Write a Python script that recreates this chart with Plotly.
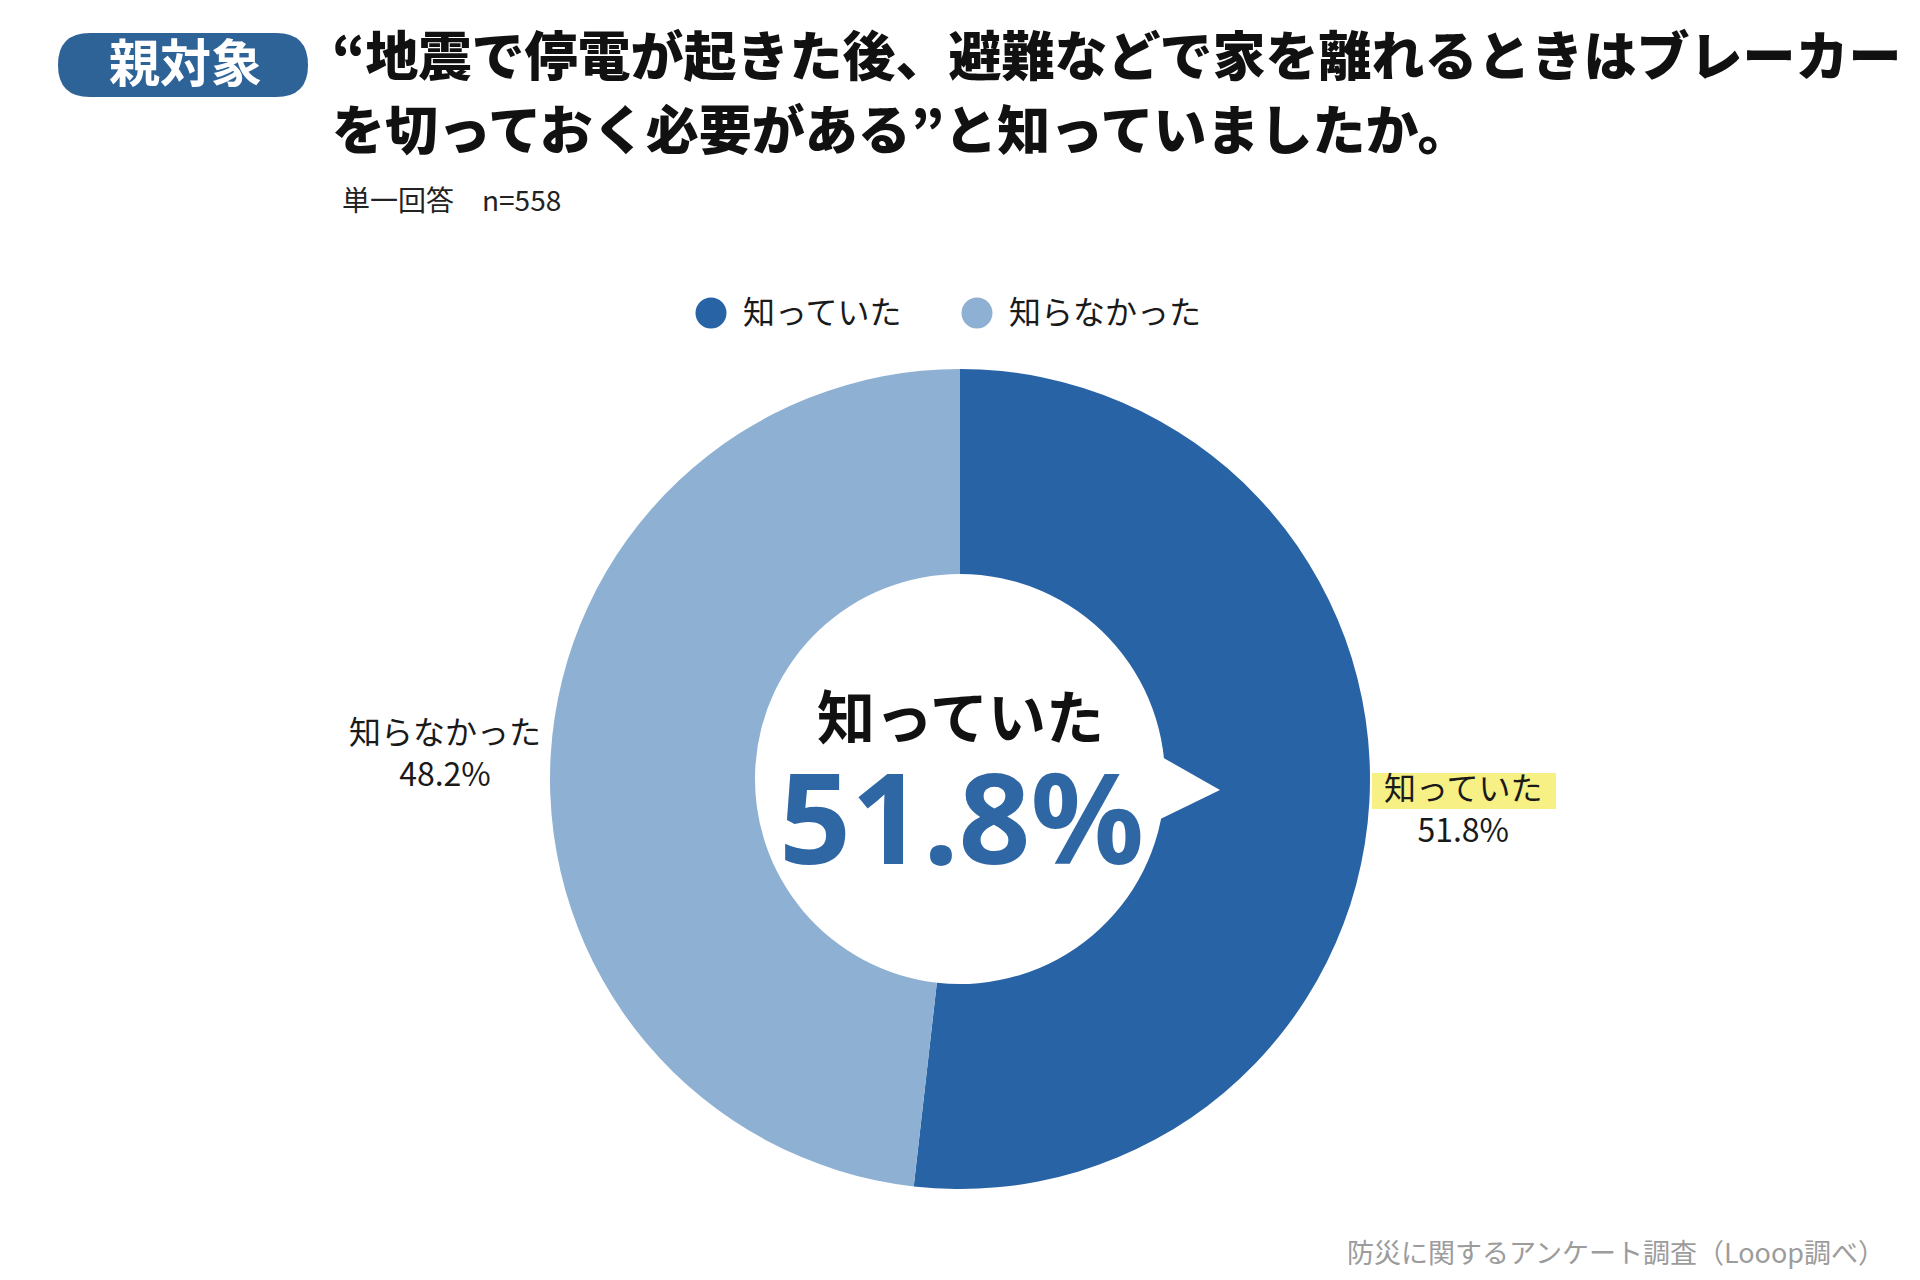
import plotly.graph_objects as go

# data
categories = ["知っていた", "知らなかった"]
shares = [51.8, 48.2]
badge_label = "親対象"
title_lines = ["“地震で停電が起きた後、避難などで家を離れるときはブレーカー",
               "を切っておく必要がある”と知っていましたか。"]
subtitle = "単一回答　n=558"
source = "防災に関するアンケート調査（Looop調べ）"

colors = ["#2863a5", "#8db0d3"]
W, H = 1920, 1280
OFF = 8  # the page puts the plot 8px in from the corner
JP = "Noto Sans CJK JP"


def fx(x):
    return (x - OFF) / W


def fy(y):
    return 1 - (y - OFF) / H


fig = go.Figure()
fig.add_trace(go.Pie(
    labels=categories,
    values=shares,
    hole=0.5,
    sort=False,
    direction="clockwise",
    rotation=0,
    marker=dict(colors=colors, line=dict(width=0)),
    textinfo="none",
    showlegend=False,
    domain=dict(x=[fx(550), fx(1370)], y=[fy(1189), fy(369)]),
))

shapes = []
annotations = []

# badge
bx0, bx1, by0, by1, r = 58, 308, 33, 97, 32
shapes.append(dict(
    type="path", xref="paper", yref="paper",
    path=(f"M {fx(bx0 + r)} {fy(by0)} L {fx(bx1 - r)} {fy(by0)} "
          f"Q {fx(bx1)} {fy(by0)} {fx(bx1)} {fy((by0 + by1) / 2)} "
          f"Q {fx(bx1)} {fy(by1)} {fx(bx1 - r)} {fy(by1)} "
          f"L {fx(bx0 + r)} {fy(by1)} "
          f"Q {fx(bx0)} {fy(by1)} {fx(bx0)} {fy((by0 + by1) / 2)} "
          f"Q {fx(bx0)} {fy(by0)} {fx(bx0 + r)} {fy(by0)} Z"),
    fillcolor="#2e6398", line=dict(width=0),
))
annotations.append(dict(
    x=fx(185), y=fy(60), text=f"<b>{badge_label}</b>", showarrow=False,
    xanchor="center", yanchor="middle",
    font=dict(family=JP, size=51, color="white", weight=900),
))

# title
for i, line in enumerate(title_lines):
    annotations.append(dict(
        x=fx(330), y=fy(53 + 74 * i), text=line, showarrow=False,
        xanchor="left", yanchor="middle",
        font=dict(family=JP, size=53, color="#111111", weight=900),
    ))
annotations.append(dict(
    x=fx(340), y=fy(199), text=subtitle, showarrow=False,
    xanchor="left", yanchor="middle",
    font=dict(family=JP, size=28, color="#222222"),
))

# legend
leg_x = [711, 977]
for cx, name, col in zip(leg_x, categories, colors):
    shapes.append(dict(
        type="circle", xref="paper", yref="paper",
        x0=fx(cx - 15.5), x1=fx(cx + 15.5), y0=fy(313 + 15.5), y1=fy(313 - 15.5),
        fillcolor=col, line=dict(width=0),
    ))
    annotations.append(dict(
        x=fx(cx + 30), y=fy(310), text=name, showarrow=False,
        xanchor="left", yanchor="middle",
        font=dict(family=JP, size=32, color="#1a1a1a"),
    ))

# highlight behind the outer label of the first slice
shapes.append(dict(
    type="rect", xref="paper", yref="paper", layer="below",
    x0=fx(1372), x1=fx(1556), y0=fy(809), y1=fy(773),
    fillcolor="#f6f085", line=dict(width=0),
))

# outer labels: name over share
label_pos = [(1463, 807), (445, 751)]
for (lx, ly), name, val in zip(label_pos, categories, shares):
    annotations.append(dict(
        x=fx(lx), y=fy(ly), text=f"{name}<br>{val:.1f}%", showarrow=False,
        xanchor="center", yanchor="middle", align="center",
        font=dict(family=JP, size=32, color="#1a1a1a"),
    ))

# speech-bubble pointer from the hole
shapes.append(dict(
    type="path", xref="paper", yref="paper",
    path=(f"M {fx(1146)} {fy(748)} L {fx(1220)} {fy(790)} "
          f"L {fx(1146)} {fy(826)} Z"),
    fillcolor="white", line=dict(width=0),
))

# centre text
annotations.append(dict(
    x=fx(960), y=fy(714), text=f"<b>{categories[0]}</b>", showarrow=False,
    xanchor="center", yanchor="middle",
    font=dict(family=JP, size=58, color="#111111", weight=900),
))
annotations.append(dict(
    x=fx(961), y=fy(815), text=f"<b>{shares[0]:.1f}%</b>", showarrow=False,
    xanchor="center", yanchor="middle",
    font=dict(family="Noto Sans", size=126, color="#2f67a5", weight=700),
))

# source
annotations.append(dict(
    x=fx(1887), y=fy(1251), text=source, showarrow=False,
    xanchor="right", yanchor="middle",
    font=dict(family=JP, size=27, color="#9c9c9c"),
))

fig.update_layout(
    width=W, height=H,
    margin=dict(l=0, r=0, t=0, b=0),
    paper_bgcolor="white", plot_bgcolor="white",
    shapes=shapes, annotations=annotations,
    showlegend=False,
)

fig.write_html("out.html")
